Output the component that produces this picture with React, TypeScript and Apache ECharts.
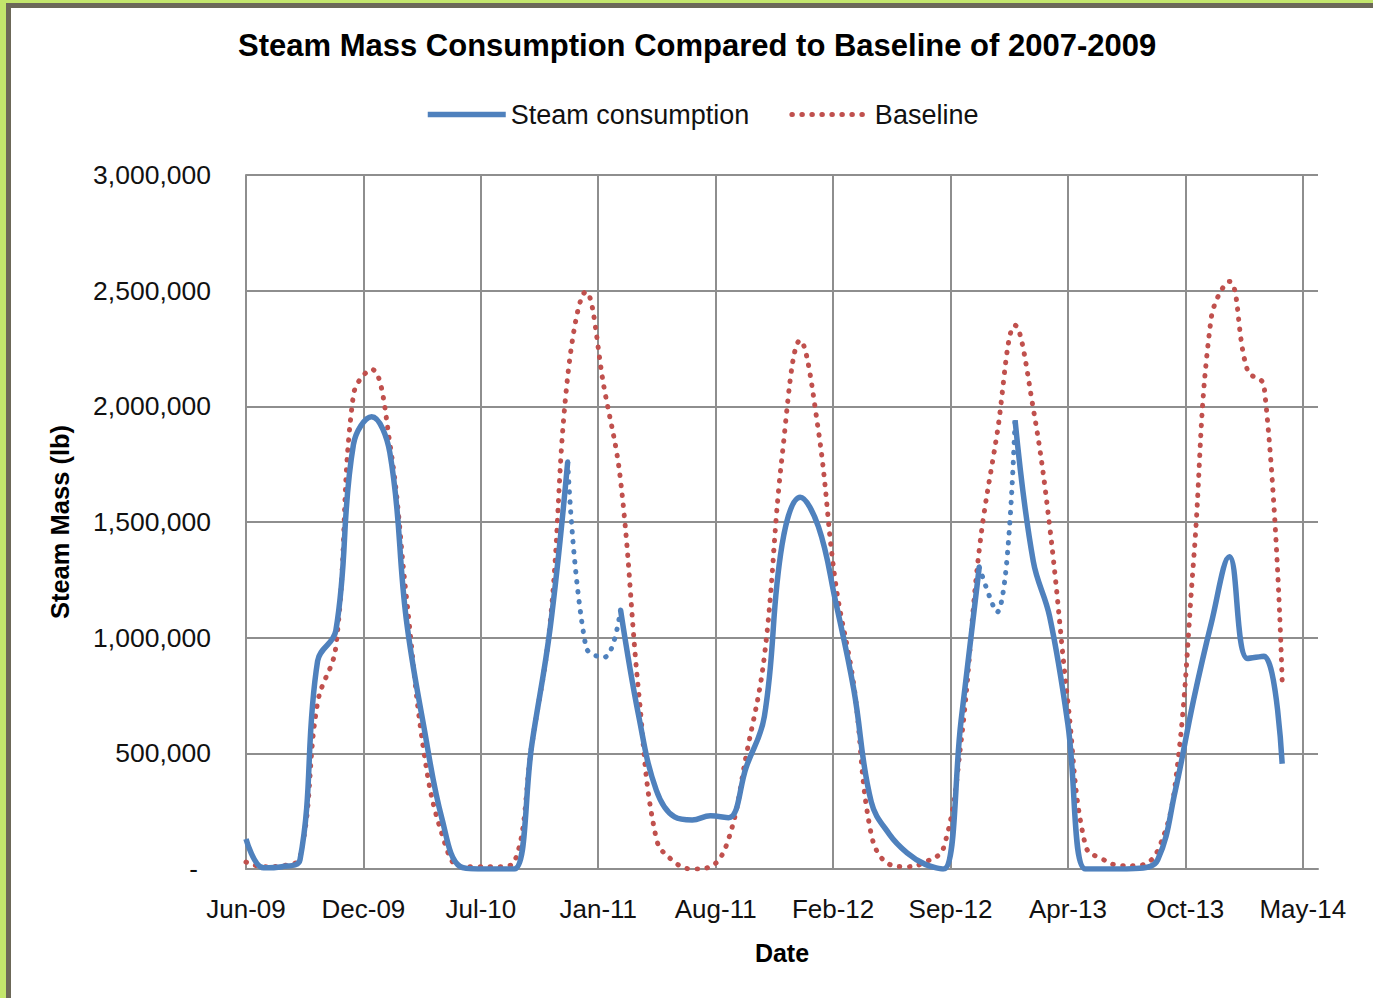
import React, { useEffect, useRef } from "react";
import * as echarts from "echarts";

// Monthly data points (first of each month)
const months: string[] = [
  "2009-06", "2009-07", "2009-08", "2009-09", "2009-10", "2009-11", "2009-12",
  "2010-01", "2010-02", "2010-03", "2010-04", "2010-05", "2010-06", "2010-07", "2010-08", "2010-09", "2010-10", "2010-11", "2010-12",
  "2011-01", "2011-02", "2011-03", "2011-04", "2011-05", "2011-06", "2011-07", "2011-08", "2011-09", "2011-10", "2011-11", "2011-12",
  "2012-01", "2012-02", "2012-03", "2012-04", "2012-05", "2012-06", "2012-07", "2012-08", "2012-09", "2012-10", "2012-11", "2012-12",
  "2013-01", "2013-02", "2013-03", "2013-04", "2013-05", "2013-06", "2013-07", "2013-08", "2013-09", "2013-10", "2013-11", "2013-12",
  "2014-01", "2014-02", "2014-03", "2014-04",
];

// Steam consumption (lb) — null where the measured line is missing (dotted gap)
const steamConsumption: (number | null)[] = [
  130000, 5000, 10000, 40000, 900000, 1030000, 1835000,
  1955000, 1800000, 1080000, 600000, 215000, 10000, 0, 0, 0, 540000, 1040000, 1760000,
  null, null, 1120000, 660000, 340000, 225000, 212000, 230000, 222000, 440000, 660000, 1400000,
  1607000, 1480000, 1160000, 780000, 290000, 150000, 70000, 20000, 0, 640000, 1306000, null,
  1940000, 1330000, 1090000, 625000, 0, 0, 0, 3000, 40000, 340000, 730000, 1060000,
  1350000, 910000, 920000, 455000,
];

// Estimated values bridging the gaps (drawn dotted)
const steamGapEstimate: (number | null)[] = [
  null, null, null, null, null, null, null,
  null, null, null, null, null, null, null, null, null, null, null, 1760000,
  960000, 915000, 1120000, null, null, null, null, null, null, null, null, null,
  null, null, null, null, null, null, null, null, null, null, 1306000, 1110000,
  1940000, null, null, null, null, null, null, null, null, null, null, null,
  null, null, null, null,
];

// Baseline of 2007-2009 (lb)
const baseline: number[] = [
  30000, 10000, 14000, 50000, 720000, 960000, 2050000,
  2160000, 1840000, 1180000, 490000, 150000, 10000, 10000, 10000, 30000, 540000, 1060000, 2130000,
  2495000, 2080000, 1680000, 760000, 130000, 30000, 0, 10000, 130000, 490000, 920000, 1780000,
  2285000, 1895000, 1240000, 800000, 150000, 20000, 10000, 30000, 90000, 550000, 1380000, 1875000,
  2350000, 1990000, 1480000, 720000, 100000, 40000, 14000, 16000, 80000, 370000, 1330000, 2380000,
  2540000, 2155000, 2090000, 810000,
];

const seriesNames = ["Steam consumption", "Baseline"];
const yTicks = { min: 0, max: 3000000, interval: 500000 };
const xAxisDays = { min: 0, max: 1826, interval: 200 }; // days since 1 Jun 2009
const monthNames = ["Jan", "Feb", "Mar", "Apr", "May", "Jun", "Jul", "Aug", "Sep", "Oct", "Nov", "Dec"];

const ORIGIN = Date.UTC(2009, 5, 1);
const DAY = 86400000;
const dayOffset = (m: string) => {
  const [y, mo] = m.split("-").map(Number);
  return Math.round((Date.UTC(y, mo - 1, 1) - ORIGIN) / DAY);
};
const xDays = months.map(dayOffset);
const toPairs = (vals: (number | null)[]) =>
  vals.map((v, i) => [xDays[i], v === null ? "-" : v]);

const FONT = "'Liberation Sans', Arial, sans-serif";
const BLUE = "#4f81bd";
const RED = "#c0504d";
const GRID = "#8e8e8e";
const DOTS = [0.5, 9.5];

export default function App() {
  const ref = useRef<HTMLDivElement>(null);

  useEffect(() => {
    if (!ref.current) return;
    const chart = echarts.init(ref.current, undefined, { renderer: "svg" });
    chart.setOption({
      animation: false,
      textStyle: { fontFamily: FONT },
      title: {
        text: "Steam Mass Consumption Compared to Baseline of 2007-2009",
        left: 238,
        top: 30,
        padding: 0,
        textStyle: { fontFamily: FONT, fontSize: 31, fontWeight: "bold", color: "#000" },
      },
      legend: {
        data: [
          { name: seriesNames[0], lineStyle: { width: 5.5, color: BLUE } },
          { name: seriesNames[1], lineStyle: { width: 5, color: RED, type: DOTS, cap: "round" } },
        ],
        left: 425,
        top: 101,
        padding: 0,
        itemWidth: 78,
        itemHeight: 14,
        itemGap: 40,
        itemStyle: { opacity: 0 },
        textStyle: { fontFamily: FONT, fontSize: 27, color: "#111" },
      },
      grid: { left: 246, right: 55, top: 175, bottom: 129, containLabel: false },
      xAxis: {
        type: "value",
        min: xAxisDays.min,
        max: xAxisDays.max,
        interval: xAxisDays.interval,
        axisLine: { show: true, lineStyle: { color: GRID, width: 2 } },
        axisTick: { show: false },
        splitLine: { show: true, showMaxLine: false, lineStyle: { color: GRID, width: 2 } },
        axisLabel: {
          showMaxLabel: false,
          margin: 27,
          fontFamily: FONT,
          fontSize: 26,
          color: "#111",
          formatter: (v: number) => {
            if (v % xAxisDays.interval !== 0) return "";
            const d = new Date(ORIGIN + v * DAY);
            return monthNames[d.getUTCMonth()] + "-" + String(d.getUTCFullYear()).slice(2);
          },
        },
      },
      yAxis: {
        type: "value",
        min: yTicks.min,
        max: yTicks.max,
        interval: yTicks.interval,
        axisLine: { show: true, lineStyle: { color: GRID, width: 2 } },
        axisTick: { show: false },
        splitLine: { show: true, lineStyle: { color: GRID, width: 2 } },
        axisLabel: {
          margin: 35,
          fontFamily: FONT,
          fontSize: 26.5,
          color: "#111",
          formatter: (v: number) => (v === 0 ? "{z|-}" : v.toLocaleString("en-US")),
          rich: { z: { fontFamily: FONT, fontSize: 26, color: "#111", padding: [0, 13, 0, 0] } },
        },
      },
      graphic: [
        {
          type: "text",
          x: 60,
          y: 522,
          rotation: Math.PI / 2,
          style: {
            text: "Steam Mass (lb)",
            fontFamily: FONT,
            fontSize: 25.5,
            fontWeight: "bold",
            fill: "#000",
            align: "center",
            verticalAlign: "middle",
          },
        },
        {
          type: "text",
          x: 782,
          y: 953,
          style: {
            text: "Date",
            fontFamily: FONT,
            fontSize: 25,
            fontWeight: "bold",
            fill: "#000",
            align: "center",
            verticalAlign: "middle",
          },
        },
      ],
      series: [
        {
          name: "Baseline",
          type: "line",
          data: toPairs(baseline),
          smooth: 0.4,
          symbol: "none",
          z: 2,
          itemStyle: { color: RED },
          lineStyle: { color: RED, width: 5, type: DOTS, cap: "round" },
        },
        {
          name: "Steam consumption",
          type: "line",
          data: toPairs(steamConsumption),
          smooth: 0.4,
          symbol: "none",
          connectNulls: false,
          z: 3,
          itemStyle: { color: BLUE },
          lineStyle: { color: BLUE, width: 5.5 },
        },
        {
          name: "Steam consumption (gap)",
          type: "line",
          data: toPairs(steamGapEstimate),
          smooth: 0.4,
          symbol: "none",
          connectNulls: false,
          z: 3,
          itemStyle: { color: BLUE },
          lineStyle: { color: BLUE, width: 5, type: DOTS, cap: "round" },
        },
      ],
    });
    return () => chart.dispose();
  }, []);

  return (
    <div style={{ position: "absolute", left: 0, top: 0, width: 1373, height: 998, background: "#c3e66c", overflow: "hidden" }}>
      <div
        style={{
          position: "absolute",
          left: 6,
          top: 3,
          right: 0,
          bottom: 0,
          background: "#ffffff",
          borderLeft: "5px solid #6c6858",
          borderTop: "5px solid #6c6858",
        }}
      />
      <div ref={ref} style={{ position: "absolute", left: 0, top: 0, width: 1373, height: 998 }} />
    </div>
  );
}
